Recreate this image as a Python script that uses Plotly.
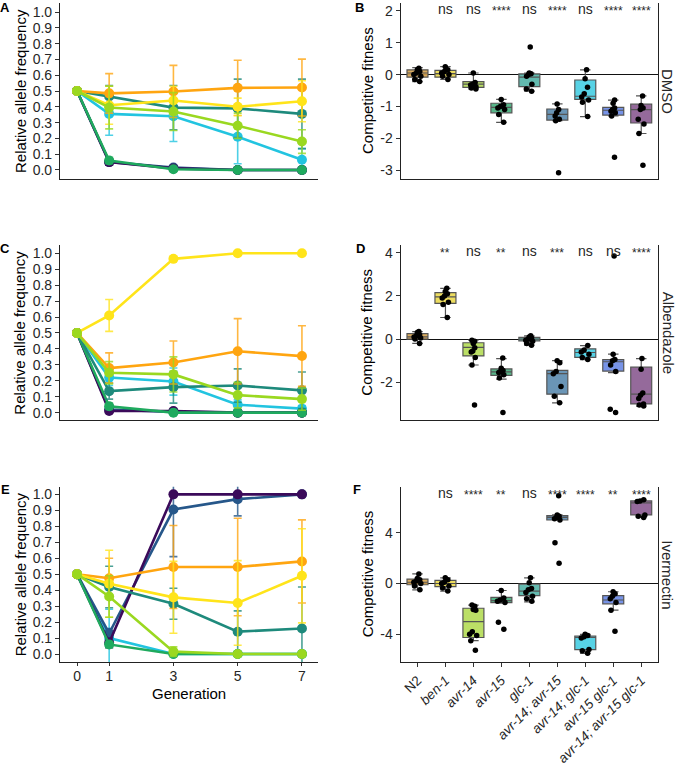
import plotly.graph_objects as go

# ---------------- data ----------------
generations = [0, 1, 3, 5, 7]
line_colors = {
    "cyan": "#22C4E0", "navy": "#26578A", "purple": "#3B0A5A", "green": "#1FAA5E",
    "teal": "#1E8A7C", "orange": "#FFA510", "yellow": "#FFE41A", "lightgreen": "#9AD820",
}
draw_order = ["cyan", "navy", "purple", "green", "teal", "orange", "yellow", "lightgreen"]

# Panel A (DMSO) relative allele frequency, mean and error
freq_dmso = {
    "orange": [0.5, 0.485, 0.497, 0.52, 0.522],
    "yellow": [0.5, 0.41, 0.44, 0.40, 0.435],
    "teal": [0.5, 0.465, 0.395, 0.39, 0.355],
    "lightgreen": [0.5, 0.395, 0.37, 0.28, 0.18],
    "cyan": [0.5, 0.355, 0.34, 0.21, 0.065],
    "green": [0.5, 0.06, 0.005, 0.0, 0.0],
    "purple": [0.5, 0.05, 0.01, 0.0, 0.0],
    "navy": [0.5, 0.05, 0.015, 0.0, 0.0],
}
err_dmso = {
    "orange": [0, 0.125, 0.165, 0.175, 0.18],
    "yellow": [0, 0.12, 0.09, 0.055, 0.13],
    "teal": [0, 0.07, 0.14, 0.185, 0.22],
    "lightgreen": [0, 0.135, 0.12, 0.08, 0.075],
    "cyan": [0, 0.135, 0.16, 0.17, 0.07],
    "green": [0, 0.02, 0.005, 0, 0],
    "purple": [0, 0.02, 0.005, 0, 0],
    "navy": [0, 0.02, 0.01, 0, 0],
}
# Panel C (Albendazole)
freq_abz = {
    "yellow": [0.5, 0.61, 0.965, 1.0, 1.0],
    "orange": [0.5, 0.28, 0.315, 0.385, 0.355],
    "lightgreen": [0.5, 0.25, 0.24, 0.11, 0.085],
    "cyan": [0.5, 0.22, 0.195, 0.05, 0.025],
    "teal": [0.5, 0.135, 0.16, 0.17, 0.14],
    "green": [0.5, 0.04, 0.0, 0.0, 0.0],
    "purple": [0.5, 0.01, 0.01, 0.0, 0.0],
    "navy": [0.5, 0.02, 0.005, 0.0, 0.0],
}
err_abz = {
    "yellow": [0, 0.1, 0.01, 0, 0],
    "orange": [0, 0.095, 0.135, 0.205, 0.19],
    "lightgreen": [0, 0.07, 0.11, 0.08, 0.07],
    "cyan": [0, 0.05, 0.085, 0.03, 0.02],
    "teal": [0, 0.05, 0.1, 0.105, 0.115],
    "green": [0, 0.02, 0, 0, 0],
    "purple": [0, 0.01, 0.005, 0, 0],
    "navy": [0, 0.01, 0.005, 0, 0],
}
# Panel E (Ivermectin)
freq_ivm = {
    "purple": [0.5, 0.07, 1.0, 1.0, 1.0],
    "navy": [0.5, 0.13, 0.905, 0.97, 1.0],
    "orange": [0.5, 0.475, 0.545, 0.545, 0.58],
    "yellow": [0.5, 0.44, 0.355, 0.32, 0.49],
    "teal": [0.5, 0.42, 0.315, 0.14, 0.16],
    "lightgreen": [0.5, 0.36, 0.015, 0.0, 0.0],
    "green": [0.5, 0.06, 0.0, 0.0, 0.0],
    "cyan": [0.5, 0.1, 0.0, 0.0, 0.0],
}
err_ivm = {
    "purple": [0, 0.03, 0.005, 0, 0],
    "navy": [0, 0.03, 0.295, 0.105, 0],
    "orange": [0, 0.125, 0.26, 0.305, 0.26],
    "yellow": [0, 0.21, 0.225, 0.265, 0.295],
    "teal": [0, 0.13, 0.097, 0.13, 0.26],
    "lightgreen": [0, 0.13, 0.03, 0, 0],
    "green": [0, 0.02, 0, 0, 0],
    "cyan": [0, 0.18, 0, 0, 0],
}

strains = ["N2", "ben-1", "avr-14", "avr-15", "glc-1", "avr-14; avr-15",
           "avr-14; glc-1", "avr-15 glc-1", "avr-14; avr-15 glc-1"]
strain_labels = ["N2"] + ["<i>%s</i>" % s for s in strains[1:]]
box_colors = ["#D6A24C", "#EBD94E", "#B4DC55", "#45AE7C", "#52B3A6",
              "#5A89AE", "#45CDE2", "#6887E4", "#8A5A90"]

# Competitive fitness box stats: q1, median, q3, lower whisker, upper whisker
box_dmso = dict(
    q1=[-0.08, -0.08, -0.40, -1.20, -0.38, -1.43, -0.78, -1.27, -1.52],
    med=[0.05, 0.03, -0.30, -1.03, -0.08, -1.25, -0.68, -1.12, -1.10],
    q3=[0.15, 0.13, -0.22, -0.90, 0.02, -1.08, -0.17, -1.03, -0.93],
    lo=[-0.22, -0.15, -0.45, -1.50, -0.52, -1.45, -1.32, -1.30, -1.85],
    hi=[0.22, 0.25, 0.05, -0.78, 0.05, -0.92, 0.15, -0.80, -0.67],
)
pts_dmso = [
    [0.2, 0.15, 0.1, 0.05, 0.0, -0.05, -0.15, -0.22],
    [0.25, 0.15, 0.1, 0.05, 0.0, -0.05, -0.15],
    [0.05, -0.25, -0.3, -0.33, -0.38, -0.42, -0.45],
    [-0.78, -0.95, -1.0, -1.05, -1.1, -1.25, -1.5],
    [0.87, 0.05, 0.03, 0.0, -0.05, -0.3, -0.45, -0.52],
    [-0.92, -1.1, -1.2, -1.3, -1.4, -1.45, -3.08],
    [0.15, -0.13, -0.4, -0.6, -0.7, -0.8, -0.87, -1.32],
    [-0.8, -0.9, -1.05, -1.1, -1.15, -1.2, -1.3, -2.6],
    [-0.67, -0.97, -1.05, -1.1, -1.4, -1.55, -1.85, -2.85],
]
box_abz = dict(
    q1=[0.0, 1.65, -0.78, -1.68, -0.08, -2.55, -0.85, -1.48, -3.0],
    med=[0.1, 1.95, -0.38, -1.52, 0.0, -1.6, -0.62, -1.05, -2.55],
    q3=[0.25, 2.15, -0.17, -1.38, 0.08, -1.45, -0.45, -0.95, -1.3],
    lo=[-0.2, 1.0, -1.2, -1.85, -0.28, -2.95, -0.95, -1.55, -3.1],
    hi=[0.35, 2.35, -0.05, -0.9, 0.15, -1.0, -0.3, -0.7, -0.9],
)
pts_abz = [
    [0.35, 0.3, 0.2, 0.15, 0.1, 0.05, 0.0, -0.2],
    [2.35, 2.2, 2.1, 2.0, 1.9, 1.7, 1.6, 1.0],
    [-0.05, -0.1, -0.2, -0.4, -0.55, -0.6, -0.85, -1.2, -3.05],
    [-0.87, -1.35, -1.45, -1.5, -1.55, -1.65, -1.8, -3.4],
    [0.15, 0.1, 0.05, 0.0, -0.05, -0.1, -0.2, -0.28],
    [-1.0, -1.1, -1.5, -1.6, -2.2, -2.65, -2.95],
    [-0.3, -0.5, -0.6, -0.7, -0.85, -0.95],
    [3.85, -0.7, -0.95, -1.0, -1.2, -1.5, -3.25, -3.4],
    [-0.9, -1.4, -2.5, -2.6, -2.75, -3.0, -3.1, -3.05],
]
box_ivm = dict(
    q1=[-0.1, -0.25, -4.25, -1.5, -0.95, 5.0, -5.2, -1.6, 5.4],
    med=[0.1, 0.0, -3.0, -1.35, -0.6, 5.2, -4.25, -1.3, 6.35],
    q3=[0.35, 0.25, -1.95, -1.1, -0.05, 5.35, -4.15, -0.95, 6.5],
    lo=[-0.5, -0.6, -4.5, -1.55, -1.45, 5.0, -5.5, -2.1, 5.2],
    hi=[0.75, 0.45, -1.7, -0.55, 0.45, 5.4, -4.0, -0.65, 6.6],
)
pts_ivm = [
    [0.75, 0.4, 0.3, 0.2, 0.1, 0.0, -0.2, -0.5],
    [0.45, 0.3, 0.1, 0.0, -0.2, -0.35, -0.6],
    [-1.7, -1.8, -2.05, -2.1, -3.8, -4.0, -4.1, -4.5, -5.25],
    [-0.55, -1.15, -1.3, -1.4, -1.5, -3.05, -3.6],
    [0.45, 0.05, -0.4, -0.5, -0.7, -1.0, -1.2, -1.4],
    [6.9, 5.4, 5.3, 5.2, 5.1, 5.0, 3.2, 1.6],
    [-4.0, -4.1, -4.2, -4.3, -5.2, -5.3, -5.5],
    [-0.65, -0.8, -1.0, -1.2, -1.5, -2.1, -3.75],
    [6.6, 6.5, 6.45, 5.4, 5.3, 5.2],
]
sig_dmso = ["", "ns", "ns", "****", "ns", "****", "ns", "****", "****"]
sig_abz = ["", "**", "ns", "**", "ns", "***", "ns", "ns", "****"]
sig_ivm = ["", "ns", "****", "**", "ns", "****", "****", "**", "****"]

conditions = ["DMSO", "Albendazole", "Ivermectin"]
left_tickvals = [0.0, 0.1, 0.2, 0.3, 0.4, 0.5, 0.6, 0.7, 0.8, 0.9, 1.0]
right_tickvals = [[-3, -2, -1, 0, 1, 2], [-2, 0, 2, 4], [-4, 0, 4]]

# ---------------- figure ----------------
W, H = 679, 767
fig = go.Figure()
FONT = "Arial, Liberation Sans, sans-serif"
TXT = "#262626"


def hexa(c, a):
    c = c.lstrip("#")
    return "rgba(%d,%d,%d,%.2f)" % (int(c[0:2], 16), int(c[2:4], 16), int(c[4:6], 16), a)


freqs = [(freq_dmso, err_dmso), (freq_abz, err_abz), (freq_ivm, err_ivm)]
boxes = [(box_dmso, pts_dmso, sig_dmso), (box_abz, pts_abz, sig_abz), (box_ivm, pts_ivm, sig_ivm)]

for r in range(3):
    xl = "x%d" % (2 * r + 1) if r > 0 else "x"
    yl = "y%d" % (2 * r + 1) if r > 0 else "y"
    fd, ed = freqs[r]
    for name in draw_order:
        col = line_colors[name]
        fig.add_trace(go.Scatter(
            x=generations, y=fd[name], mode="lines+markers", xaxis=xl, yaxis=yl,
            line=dict(color=col, width=2.6), marker=dict(color=col, size=10),
            error_y=dict(type="data", array=ed[name], color=hexa(col, 0.8), thickness=1.6, width=4),
            showlegend=False, name=name))
    xr = "x%d" % (2 * r + 2)
    yr = "y%d" % (2 * r + 2)
    bs, pts, sig = boxes[r]
    for i in range(len(strains)):
        fig.add_trace(go.Box(
            x=[i], q1=[bs["q1"][i]], median=[bs["med"][i]], q3=[bs["q3"][i]],
            lowerfence=[bs["lo"][i]], upperfence=[bs["hi"][i]], orientation="v",
            width=0.75, fillcolor=hexa(box_colors[i], 0.9), line=dict(color="#555555", width=1.2),
            boxpoints=False, xaxis=xr, yaxis=yr, showlegend=False, name=strains[i]))
    for i in range(len(strains)):
        fig.add_trace(go.Box(
            x=[i] * len(pts[i]), y=pts[i], boxpoints="all", jitter=0.45, pointpos=0,
            width=0.75, fillcolor="rgba(0,0,0,0)", line=dict(color="rgba(0,0,0,0)", width=0),
            marker=dict(color="black", size=5.5), xaxis=xr, yaxis=yr, showlegend=False,
            name=strains[i], whiskerwidth=0))

# domains
lx = [60 / W, 318 / W]
rx = [400.7 / W, 658 / W]
rows_px = [(3, 179), (245, 420.3), (486.7, 662)]
yranges_left = [[-0.057, 1.057], [-0.048, 1.052], [-0.05, 1.048]]
yranges_right = [[-3.28, 2.25], [-3.76, 4.356], [-6.18, 7.62]]

axis_common = dict(showgrid=False, showline=True, linecolor="#222222", linewidth=1.2,
                   ticks="outside", ticklen=4, tickwidth=1, tickcolor="#333333",
                   tickfont=dict(family=FONT, size=14, color=TXT))
layout = dict(width=W, height=H, margin=dict(l=0, r=0, t=0, b=0), template="none",
              paper_bgcolor="white", plot_bgcolor="white", boxmode="overlay",
              font=dict(family=FONT, color="black"), showlegend=False)

annotations = []
for r in range(3):
    ydom = [1 - rows_px[r][1] / H, 1 - rows_px[r][0] / H]
    il = 2 * r + 1
    ir = 2 * r + 2
    kx = lambda n: "xaxis" if n == 1 else "xaxis%d" % n
    ky = lambda n: "yaxis" if n == 1 else "yaxis%d" % n
    an = lambda n: "x" if n == 1 else "x%d" % n
    ay = lambda n: "y" if n == 1 else "y%d" % n
    last = r == 2
    xl_ax = dict(axis_common, domain=lx, range=[-0.53, 7.5], anchor=ay(il),
                 tickvals=generations if last else [], showticklabels=last,
                 ticks="outside" if last else "", zeroline=False)
    if last:
        xl_ax["ticklen"] = 3
        xl_ax["ticklabelstandoff"] = -2
    layout[kx(il)] = xl_ax
    layout[ky(il)] = dict(axis_common, domain=ydom, range=yranges_left[r], anchor=an(il),
                          tickvals=left_tickvals, tickformat=".1f", zeroline=False)
    xr_ax = dict(axis_common, domain=rx, range=[-0.6, 8.6], anchor=ay(ir),
                 tickvals=list(range(len(strains))) if last else [],
                 tickangle=-45 if last else 0, showticklabels=last,
                 ticks="outside" if last else "", zeroline=False)
    if last:
        xr_ax["ticktext"] = strain_labels
        xr_ax["tickfont"] = dict(family=FONT, size=13.5, color=TXT)
    layout[kx(ir)] = xr_ax
    layout[ky(ir)] = dict(axis_common, domain=ydom, range=yranges_right[r], anchor=an(ir),
                          tickvals=right_tickvals[r], ticktext=[str(v) for v in right_tickvals[r]],
                          zeroline=True, zerolinecolor="#111111",
                          zerolinewidth=1.2, mirror=True)
    ymid = (rows_px[r][0] + rows_px[r][1]) / 2
    annotations.append(dict(text="Relative allele frequency", x=20 / W, y=1 - ymid / H,
                            xref="paper", yref="paper", textangle=-90, showarrow=False,
                            font=dict(size=15, color="black"), xanchor="center", yanchor="middle"))
    annotations.append(dict(text="Competitive fitness", x=367 / W, y=1 - ymid / H,
                            xref="paper", yref="paper", textangle=-90, showarrow=False,
                            font=dict(size=15, color="black"), xanchor="center", yanchor="middle"))
    annotations.append(dict(text=conditions[r], x=668 / W, y=1 - ymid / H,
                            xref="paper", yref="paper", textangle=90, showarrow=False,
                            font=dict(size=15, color=TXT), xanchor="center", yanchor="middle"))
    sig = boxes[r][2]
    for i, s in enumerate(sig):
        if s:
            annotations.append(dict(text=s, x=i, xref=an(ir), y=1 - (rows_px[r][0] + (6 if s == "ns" else 8)) / H,
                                    yref="paper", showarrow=False, yanchor="middle",
                                    font=dict(size=14 if s == "ns" else 12, color=TXT)))

letters = [("A", 5, 8), ("B", 359, 7), ("C", 5, 249), ("D", 360, 248), ("E", 5, 489), ("F", 357, 489)]
for t, px, py in letters:
    annotations.append(dict(text="<b>%s</b>" % t, x=px / W, y=1 - py / H, xref="paper", yref="paper",
                            showarrow=False, xanchor="center", yanchor="middle",
                            font=dict(size=13, color="black")))
annotations.append(dict(text="Generation", x=189 / W, y=1 - 693 / H, xref="paper", yref="paper",
                        showarrow=False, xanchor="center", yanchor="middle",
                        font=dict(size=15, color="black")))
layout["annotations"] = annotations
fig.update_layout(**layout)
fig.write_html("out.html", config={"displayModeBar": False},
               post_script="document.body.style.margin='0';document.body.style.overflow='hidden';")
